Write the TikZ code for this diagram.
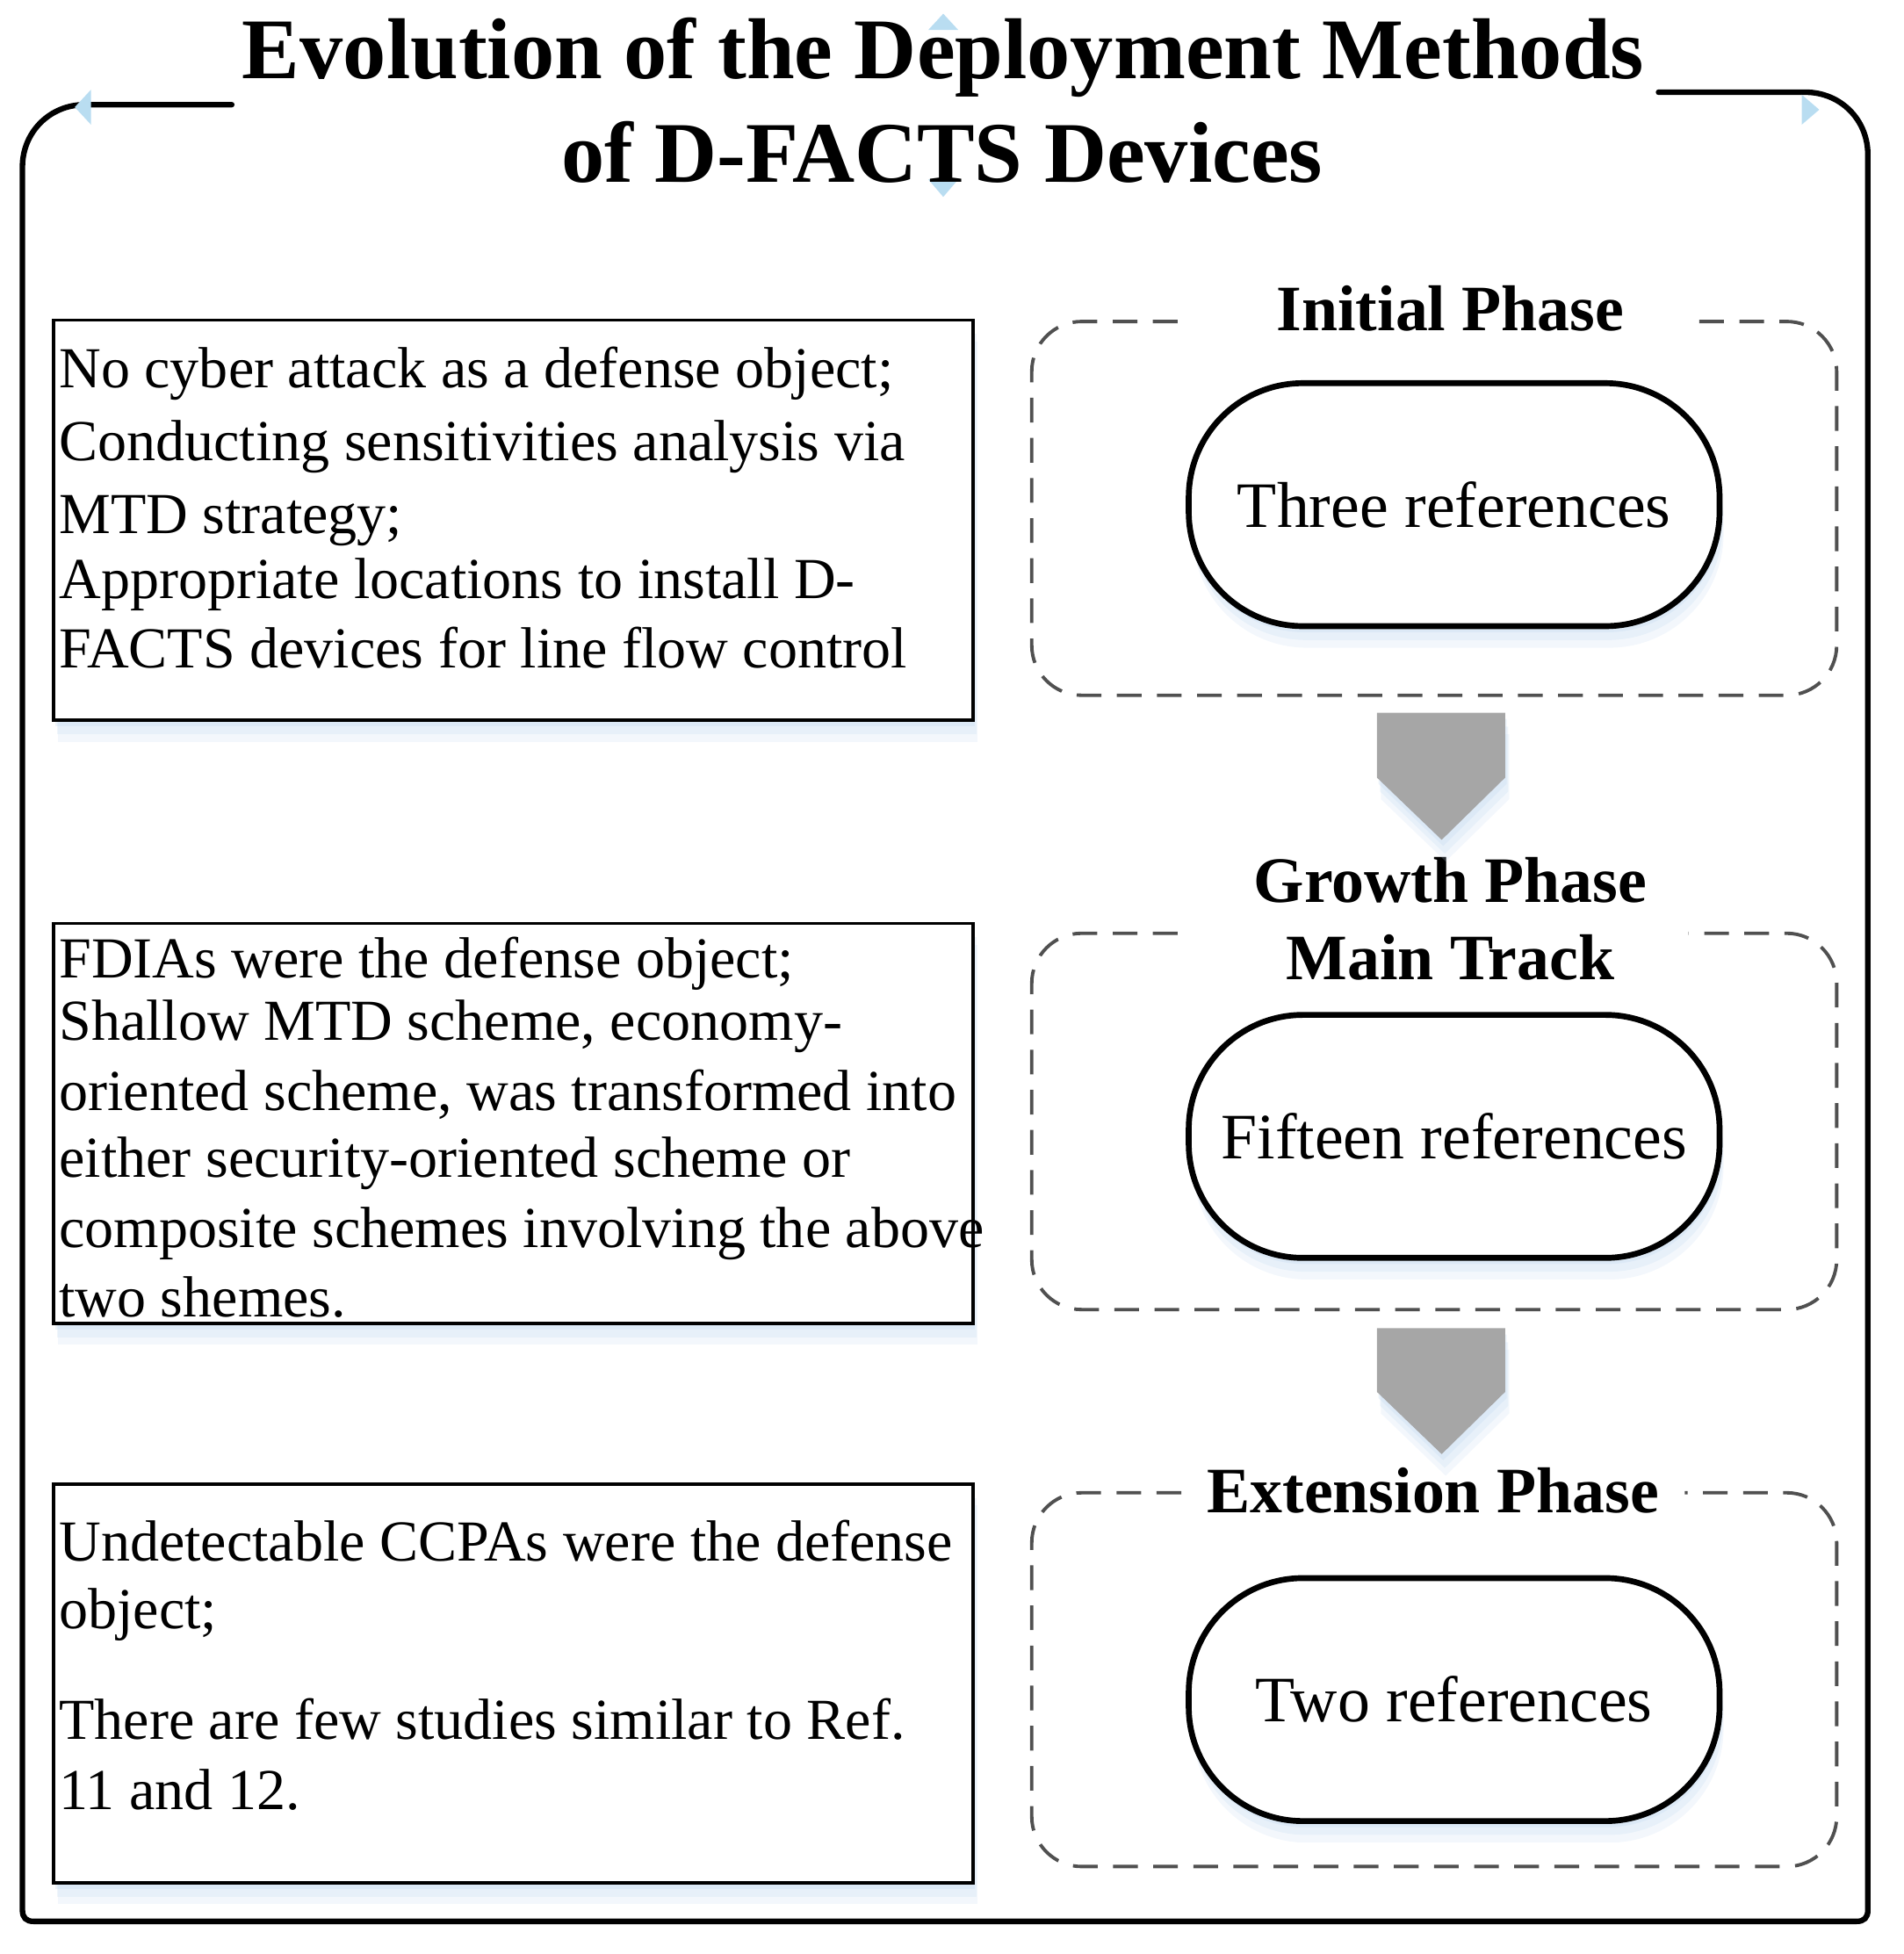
\documentclass[tikz,border=0pt]{standalone}
\usepackage{fontspec}
\setmainfont{Liberation Serif}
\usetikzlibrary{shadows,fit}
\definecolor{glowc}{HTML}{C3D9F0}
\definecolor{arrowgray}{HTML}{A6A6A6}
\definecolor{dashgray}{HTML}{505050}
\definecolor{handlec}{HTML}{B9DDF1}
\def\U{0.0141885cm}
\begin{document}
\begin{tikzpicture}[x=\U, y=-\U,
  frame/.style={line width=1.8pt, line cap=round},
  glow/.style={
    general shadow={fill=glowc, opacity=0.30, shadow yshift=-2pt, shadow xshift=0.5pt},
    general shadow={fill=glowc, opacity=0.25, shadow yshift=-4.5pt, shadow xshift=1pt},
    general shadow={fill=glowc, opacity=0.20, shadow yshift=-7pt, shadow xshift=1.3pt}},
  textbox/.style={draw, line width=1pt, fill=white, inner sep=0pt, glow},
  oval/.style={draw, line width=1.9pt, fill=white, rounded corners=1.3cm, inner sep=0pt, glow,
    minimum width={426*\U}, minimum height={195*\U},
    font=\fontsize{21}{25}\selectfont},
  phase/.style={draw=dashgray, line width=1.1pt, dash pattern=on 8pt off 5pt, rounded corners=0.57cm},
  ptitle/.style={font=\bfseries\fontsize{21}{25}\selectfont, anchor=base, inner sep=0pt},
  ttitle/.style={font=\bfseries\fontsize{28}{32}\selectfont, anchor=base, inner sep=0pt},
  btext/.style={font=\fontsize{18.8}{23}\selectfont, anchor=base west, inner sep=0pt},
  blockarrow/.style={fill=arrowgray, glow},
  handle/.style={fill=handlec}
]
\useasboundingbox (0,0) rectangle (1528,1568.2);

% outer frame
\draw[frame] (186,84) -- (68,84) .. controls (40,84) and (18,106) .. (18,134)
  -- (18,1533) .. controls (18,1539) and (21,1542) .. (27,1542)
  -- (1490,1542) .. controls (1496,1542) and (1499,1539) .. (1499,1533)
  -- (1499,124) .. controls (1499,96) and (1477,74) .. (1449,74) -- (1331,74);

% selection handles
\fill[handle] (745,24) -- (769,24) -- (757,11) -- cycle;
\fill[handle] (745,144) -- (769,144) -- (757,158) -- cycle;
\fill[handle] (73,72) -- (73,100) -- (60,86) -- cycle;
\fill[handle] (1446,76) -- (1446,100) -- (1460,88) -- cycle;

% title
\node[ttitle] (title1) at (757,63) {Evolution of the Deployment Methods};
\node[ttitle] (title2) at (756,146) {of D-FACTS Devices};

% left text boxes
\node[textbox, fit={(43,257) (781,578)}] (box1) {};
\node[textbox, fit={(43,741) (781,1062)}] (box2) {};
\node[textbox, fit={(43,1191) (781,1511)}] (box3) {};

\node[btext] (b1a) at (47,311) {No cyber attack as a defense object;};
\node[btext] (b1b) at (47,370) {Conducting sensitivities analysis via};
\node[btext] (b1c) at (47,428) {MTD strategy;};
\node[btext] (b1d) at (47,480) {Appropriate locations to install D-};
\node[btext] (b1e) at (47,536) {FACTS devices for line flow control};

\node[btext] (b2a) at (47,785) {FDIAs were the defense object;};
\node[btext] (b2b) at (47,835) {Shallow MTD scheme, economy-};
\node[btext] (b2c) at (47,891) {oriented scheme, was transformed into};
\node[btext] (b2d) at (47,945) {either security-oriented scheme or};
\node[btext] (b2e) at (47,1001) {composite schemes involving the above};
\node[btext] (b2f) at (47,1057) {two shemes.};

\node[btext] (b3a) at (47,1253) {Undetectable CCPAs were the defense};
\node[btext] (b3b) at (47,1307) {object;};
\node[btext] (b3c) at (47,1396) {There are few studies similar to Ref.};
\node[btext] (b3d) at (47,1452) {11 and 12.};

% phase frames
\draw[phase] (945,258) -- (828,258) -- (828,558) -- (1474,558) -- (1474,258) -- (1355,258);
\draw[phase] (945,749) -- (828,749) -- (828,1051) -- (1474,1051) -- (1474,749) -- (1355,749);
\draw[phase] (948,1198) -- (828,1198) -- (828,1498) -- (1474,1498) -- (1474,1198) -- (1352,1198);

\node[ptitle] (p1) at (1164,265) {Initial Phase};
\node[ptitle] (p2a) at (1164,724) {Growth Phase};
\node[ptitle] (p2b) at (1164,786) {Main Track};
\node[ptitle] (p3) at (1150,1214) {Extension Phase};

% ovals
\node[oval] (ov1) at (1167,405) {Three references};
\node[oval] (ov2) at (1167,912) {Fifteen references};
\node[oval] (ov3) at (1167,1364) {Two references};

% block arrows
\path[blockarrow] (1105,572) -- (1208,572) -- (1208,624) -- (1157,674) -- (1105,624) -- cycle;
\path[blockarrow] (1105,1066) -- (1208,1066) -- (1208,1117) -- (1157,1167) -- (1105,1117) -- cycle;
\end{tikzpicture}
\end{document}
